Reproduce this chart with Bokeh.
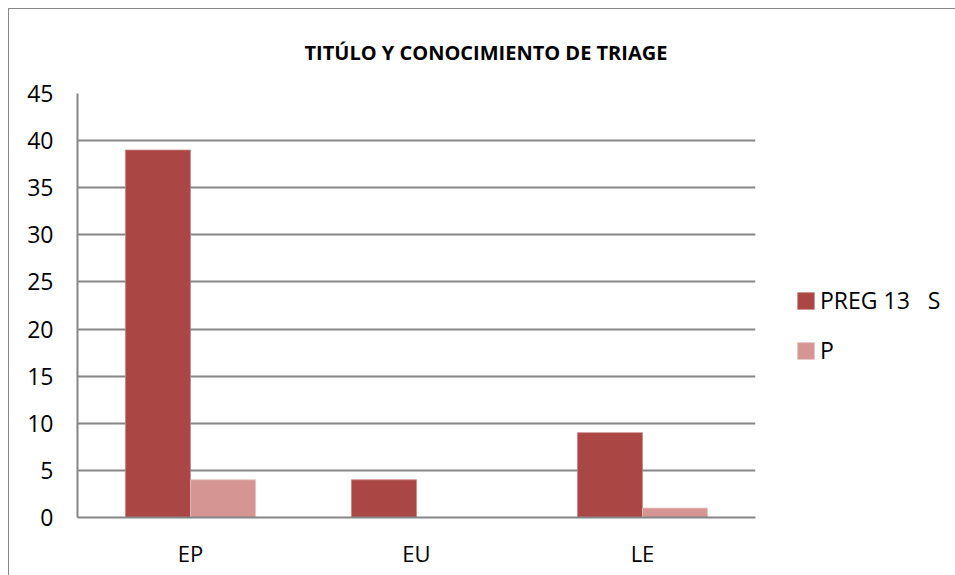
from bokeh.plotting import figure
from bokeh.models import ColumnDataSource, FactorRange, FixedTicker, Legend, LegendItem, Range1d, Title
from bokeh.transform import dodge
from bokeh.embed import file_html
from bokeh.resources import INLINE

categories = ["EP", "EU", "LE"]
series_names = ["PREG 13   S", "P"]
preg13_s = [39, 4, 9]
p_vals = [4, 0, 1]
y_ticks = [0, 5, 10, 15, 20, 25, 30, 35, 40, 45]

colors = ["#AA4643", "#D59593"]
FONT = "Open Sans"
bw = 0.288

p = figure(frame_width=678, frame_height=424, output_backend="svg", toolbar_location=None,
           x_range=FactorRange(*categories, range_padding=0), y_range=Range1d(0, 45),
           min_border_left=68, min_border_right=0, min_border_top=0,
           min_border_bottom=60)
t = Title(text="TITÚLO Y CONOCIMIENTO DE TRIAGE", align="left", offset=227,
          text_font=FONT, text_font_size="20px", text_font_style="bold",
          text_color="#000000", standoff=55)
p.add_layout(t, "above")

src = ColumnDataSource(dict(cat=categories, a=preg13_s, b=p_vals))
r1 = p.vbar(x=dodge("cat", -bw / 2, range=p.x_range), top="a", width=bw, source=src,
            fill_color=colors[0], line_color="#C98683", line_width=0.8)
r2 = p.vbar(x=dodge("cat", bw / 2, range=p.x_range), top="b", width=bw, source=src,
            fill_color=colors[1], line_color="#E8C3C2", line_width=0.8)

p.yaxis.ticker = FixedTicker(ticks=y_ticks)
for ax in (p.xaxis, p.yaxis):
    ax.major_tick_line_color = None
    ax.minor_tick_line_color = None
    ax.major_label_text_font = FONT
    ax.major_label_text_color = "#000000"
    ax.axis_line_color = "#868686"
    ax.axis_line_width = 2
p.yaxis.major_label_text_font_size = "23px"
p.xaxis.major_label_text_font_size = "22px"
p.xaxis.major_label_standoff = 14
p.yaxis.major_label_standoff = 18

p.xgrid.grid_line_color = None
p.ygrid.grid_line_color = "#868686"
p.ygrid.grid_line_width = 2
p.outline_line_color = None
p.background_fill_color = "white"
p.border_fill_color = "white"

legend = Legend(items=[LegendItem(label=series_names[0], renderers=[r1]),
                       LegendItem(label=series_names[1], renderers=[r2])],
                location=(40, 151), orientation="vertical",
                glyph_width=21, glyph_height=21, label_height=20, label_width=120,
                spacing=18, label_standoff=4, padding=0, margin=0,
                border_line_color=None, background_fill_alpha=0,
                label_text_font=FONT, label_text_font_size="23px",
                label_text_color="#000000")
p.add_layout(legend, "right")

p.styles = {"margin-left": "8px", "margin-top": "8px",
            "border-left": "1px solid #888888", "border-top": "1px solid #888888"}

open("out.html", "w").write(file_html(p, INLINE))
